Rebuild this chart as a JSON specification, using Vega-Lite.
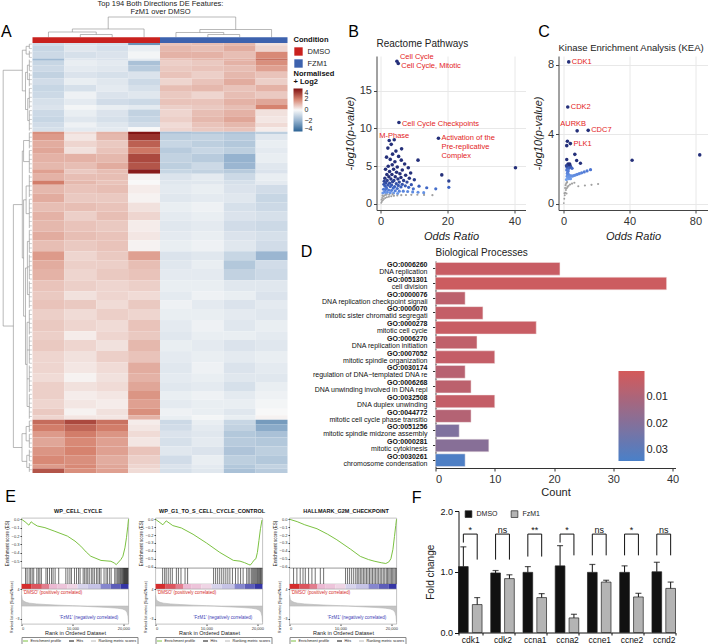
{
  "$schema": "https://vega.github.io/schema/vega-lite/v6.json",
  "background": "white",
  "padding": {"left": 0.5, "top": 0, "right": 0, "bottom": 0},
  "config": {
    "font": "Liberation Sans",
    "view": {"stroke": null},
    "axis": {"labelFontSize": 11, "titleFontSize": 11, "labelColor": "#333", "titleColor": "#222", "titleFontWeight": "normal", "domainColor": "#444", "tickColor": "#444", "tickSize": 3, "gridColor": "#e8e8e8", "labelPadding": 2},
    "legend": {"labelColor": "#222", "titleColor": "#111"},
    "title": {"color": "#111"}
  },
  "datasets": {
    "heat": [
      {"r0":0,"r1":1,"a1":-0.8,"a2":-0.6,"a3":-0.7,"a4":-2.8,"b1":0.9,"b2":1.0,"b3":1.1,"b4":0.4},
      {"r0":1,"r1":4,"a1":-1.0,"a2":-0.5,"a3":-0.7,"a4":-0.3,"b1":1.1,"b2":1.0,"b3":1.3,"b4":0.6},
      {"r0":4,"r1":7,"a1":-0.9,"a2":-0.7,"a3":-0.6,"a4":-0.1,"b1":1.2,"b2":1.2,"b3":1.0,"b4":1.9},
      {"r0":7,"r1":8,"a1":-1.8,"a2":-0.5,"a3":-0.6,"a4":-0.4,"b1":0.9,"b2":1.1,"b3":1.2,"b4":2.3},
      {"r0":8,"r1":10,"a1":-1.0,"a2":-0.3,"a3":-0.4,"a4":-1.6,"b1":0.7,"b2":0.8,"b3":1.2,"b4":1.8},
      {"r0":10,"r1":13,"a1":-0.9,"a2":-0.4,"a3":-0.5,"a4":-1.3,"b1":0.8,"b2":0.9,"b3":1.0,"b4":1.5},
      {"r0":13,"r1":16,"a1":-1.1,"a2":-0.6,"a3":-0.7,"a4":-0.6,"b1":0.9,"b2":0.7,"b3":1.1,"b4":0.9},
      {"r0":16,"r1":19,"a1":-0.8,"a2":-0.3,"a3":-0.5,"a4":-0.9,"b1":0.6,"b2":0.9,"b3":1.3,"b4":0.7},
      {"r0":19,"r1":22,"a1":-1.0,"a2":-0.7,"a3":-0.4,"a4":-0.7,"b1":1.0,"b2":1.1,"b3":0.9,"b4":1.2},
      {"r0":22,"r1":25,"a1":-0.9,"a2":-0.2,"a3":-0.6,"a4":-0.5,"b1":0.8,"b2":0.6,"b3":1.0,"b4":0.8},
      {"r0":25,"r1":28,"a1":-0.7,"a2":-0.4,"a3":-0.8,"a4":-0.9,"b1":0.9,"b2":0.9,"b3":1.2,"b4":1.4},
      {"r0":28,"r1":30,"a1":-0.6,"a2":-0.1,"a3":-0.3,"a4":-0.4,"b1":0.7,"b2":0.8,"b3":1.0,"b4":2.0},
      {"r0":30,"r1":33,"a1":-0.9,"a2":-0.3,"a3":-0.6,"a4":-1.1,"b1":0.6,"b2":1.0,"b3":1.2,"b4":0.4},
      {"r0":33,"r1":36,"a1":-1.0,"a2":-0.5,"a3":-0.7,"a4":-1.0,"b1":0.7,"b2":1.1,"b3":1.4,"b4":0.3},
      {"r0":36,"r1":38,"a1":-0.8,"a2":-0.2,"a3":-0.5,"a4":-0.8,"b1":0.5,"b2":0.9,"b3":1.1,"b4":0.5},
      {"r0":38,"r1":40,"a1":-0.7,"a2":-0.4,"a3":-0.4,"a4":0.0,"b1":0.6,"b2":0.8,"b3":0.9,"b4":0.2},
      {"r0":40,"r1":41,"a1":1.8,"a2":0.5,"a3":1.2,"a4":3.9,"b1":-1.6,"b2":-1.4,"b3":-1.5,"b4":-1.2},
      {"r0":41,"r1":44,"a1":1.6,"a2":0.3,"a3":1.1,"a4":3.4,"b1":-1.2,"b2":-1.1,"b3":-1.3,"b4":-0.5},
      {"r0":44,"r1":47,"a1":1.3,"a2":0.6,"a3":0.8,"a4":2.6,"b1":-1.0,"b2":-1.2,"b3":-1.4,"b4":-0.3},
      {"r0":47,"r1":50,"a1":1.4,"a2":0.4,"a3":0.9,"a4":2.2,"b1":-1.3,"b2":-1.0,"b3":-1.2,"b4":-0.4},
      {"r0":50,"r1":54,"a1":1.2,"a2":1.2,"a3":1.1,"a4":3.0,"b1":-1.1,"b2":-1.3,"b3":-2.0,"b4":-0.3},
      {"r0":54,"r1":57,"a1":1.1,"a2":1.0,"a3":1.3,"a4":2.8,"b1":-1.2,"b2":-0.9,"b3":-1.9,"b4":-0.5},
      {"r0":57,"r1":59,"a1":1.5,"a2":0.8,"a3":1.0,"a4":3.8,"b1":-1.0,"b2":-1.1,"b3":-1.3,"b4":-0.6},
      {"r0":59,"r1":62,"a1":1.2,"a2":1.0,"a3":1.0,"a4":0.1,"b1":-0.6,"b2":-0.4,"b3":-0.9,"b4":-0.3},
      {"r0":62,"r1":64,"a1":2.1,"a2":1.1,"a3":0.9,"a4":0.0,"b1":-0.5,"b2":-0.5,"b3":-0.7,"b4":-0.4},
      {"r0":64,"r1":68,"a1":1.1,"a2":0.9,"a3":1.0,"a4":0.2,"b1":-0.4,"b2":-0.3,"b3":-0.6,"b4":-0.8},
      {"r0":68,"r1":72,"a1":1.3,"a2":0.8,"a3":0.8,"a4":0.1,"b1":-0.5,"b2":-0.4,"b3":-0.5,"b4":-1.0},
      {"r0":72,"r1":76,"a1":1.0,"a2":1.0,"a3":0.9,"a4":0.4,"b1":-0.3,"b2":-0.2,"b3":-0.7,"b4":-0.9},
      {"r0":76,"r1":80,"a1":1.2,"a2":0.7,"a3":1.0,"a4":0.6,"b1":-0.4,"b2":-0.3,"b3":-0.6,"b4":-0.7},
      {"r0":80,"r1":85,"a1":1.1,"a2":0.9,"a3":0.8,"a4":0.2,"b1":-0.5,"b2":-0.4,"b3":-0.8,"b4":-0.9},
      {"r0":85,"r1":89,"a1":1.3,"a2":1.0,"a3":0.9,"a4":0.3,"b1":-0.4,"b2":-0.3,"b3":-0.6,"b4":-0.7},
      {"r0":89,"r1":94,"a1":1.0,"a2":0.8,"a3":0.9,"a4":0.1,"b1":-0.3,"b2":-0.2,"b3":-0.5,"b4":-0.8},
      {"r0":94,"r1":98,"a1":1.6,"a2":0.6,"a3":0.8,"a4":1.5,"b1":-0.6,"b2":-0.5,"b3":-1.0,"b4":-1.9},
      {"r0":98,"r1":102,"a1":1.3,"a2":0.7,"a3":0.7,"a4":1.0,"b1":-0.5,"b2":-0.3,"b3":-1.4,"b4":-0.8},
      {"r0":102,"r1":107,"a1":1.2,"a2":0.6,"a3":0.8,"a4":0.9,"b1":-0.4,"b2":-0.4,"b3":-1.1,"b4":-0.9},
      {"r0":107,"r1":112,"a1":0.9,"a2":0.7,"a3":0.6,"a4":0.7,"b1":-0.3,"b2":-0.3,"b3":-0.5,"b4":-0.5},
      {"r0":112,"r1":116,"a1":0.8,"a2":0.4,"a3":0.6,"a4":0.5,"b1":-0.4,"b2":-0.2,"b3":-0.3,"b4":-0.6},
      {"r0":116,"r1":120,"a1":0.9,"a2":0.8,"a3":0.5,"a4":0.8,"b1":-0.2,"b2":-0.4,"b3":-0.6,"b4":-0.4},
      {"r0":120,"r1":125,"a1":0.7,"a2":0.5,"a3":0.7,"a4":0.6,"b1":-0.3,"b2":-0.3,"b3":-0.4,"b4":-0.5},
      {"r0":125,"r1":130,"a1":0.8,"a2":0.6,"a3":0.5,"a4":0.9,"b1":-0.4,"b2":-0.2,"b3":-0.5,"b4":-0.3},
      {"r0":130,"r1":134,"a1":0.7,"a2":0.2,"a3":0.6,"a4":0.8,"b1":-0.5,"b2":-0.3,"b3":-0.3,"b4":-0.4},
      {"r0":134,"r1":139,"a1":0.8,"a2":0.6,"a3":0.4,"a4":1.1,"b1":-0.3,"b2":-0.4,"b3":-0.6,"b4":-0.5},
      {"r0":139,"r1":144,"a1":0.6,"a2":0.4,"a3":0.7,"a4":0.9,"b1":-0.4,"b2":-0.3,"b3":-0.4,"b4":-0.3},
      {"r0":144,"r1":149,"a1":0.6,"a2":0.3,"a3":0.5,"a4":1.3,"b1":-0.5,"b2":-0.2,"b3":-0.6,"b4":-0.4},
      {"r0":149,"r1":153,"a1":0.5,"a2":0.1,"a3":0.4,"a4":1.2,"b1":-0.4,"b2":-0.3,"b3":-0.5,"b4":-0.5},
      {"r0":153,"r1":157,"a1":0.7,"a2":0.4,"a3":0.5,"a4":1.4,"b1":-0.5,"b2":-0.4,"b3":-0.7,"b4":-0.3},
      {"r0":157,"r1":161,"a1":0.7,"a2":0.2,"a3":0.3,"a4":1.7,"b1":-0.3,"b2":-0.2,"b3":-0.4,"b4":-0.2},
      {"r0":161,"r1":165,"a1":0.6,"a2":0.3,"a3":0.2,"a4":1.5,"b1":-0.4,"b2":-0.3,"b3":-0.3,"b4":-0.1},
      {"r0":165,"r1":168,"a1":0.8,"a2":0.1,"a3":0.4,"a4":1.8,"b1":-0.2,"b2":-0.3,"b3":-0.5,"b4":0.0},
      {"r0":168,"r1":170,"a1":0.6,"a2":0.3,"a3":0.3,"a4":1.2,"b1":-0.3,"b2":-0.1,"b3":-0.3,"b4":0.1},
      {"r0":170,"r1":172,"a1":2.4,"a2":3.0,"a3":2.3,"a4":0.2,"b1":-0.9,"b2":-0.3,"b3":-1.0,"b4":-2.6},
      {"r0":172,"r1":175,"a1":2.1,"a2":2.5,"a3":2.1,"a4":0.3,"b1":-0.8,"b2":-0.4,"b3":-1.1,"b4":-2.2},
      {"r0":175,"r1":178,"a1":1.6,"a2":2.1,"a3":1.7,"a4":0.5,"b1":-0.6,"b2":-0.5,"b3":-1.4,"b4":-1.6},
      {"r0":178,"r1":182,"a1":1.4,"a2":1.9,"a3":1.5,"a4":0.3,"b1":-0.7,"b2":-0.4,"b3":-1.3,"b4":-1.4},
      {"r0":182,"r1":186,"a1":1.7,"a2":2.0,"a3":1.5,"a4":0.9,"b1":-0.5,"b2":-0.6,"b3":-1.5,"b4":-1.2},
      {"r0":186,"r1":190,"a1":1.9,"a2":1.8,"a3":1.3,"a4":0.7,"b1":-0.8,"b2":-0.3,"b3":-1.2,"b4":-1.4},
      {"r0":190,"r1":192,"a1":1.6,"a2":1.9,"a3":1.4,"a4":0.6,"b1":-0.6,"b2":-0.4,"b3":-1.4,"b4":-1.1},
      {"r0":192,"r1":194,"a1":2.8,"a2":1.8,"a3":1.5,"a4":0.5,"b1":-0.7,"b2":-0.5,"b3":-1.6,"b4":-1.3}
    ],
    "tree": [
      {"x":-0.92,"y":12.3,"x2":-0.92,"y2":127.7},{"x":-0.92,"y":12.3,"x2":-0.32,"y2":12.3},{"x":-0.92,"y":127.7,"x2":-0.6,"y2":127.7},
      {"x":-0.6,"y":72.9,"x2":-0.6,"y2":182.5},{"x":-0.6,"y":72.9,"x2":-0.32,"y2":72.9},{"x":-0.6,"y":182.5,"x2":-0.33,"y2":182.5},
      {"x":-0.32,"y":3.25,"x2":-0.32,"y2":21.6},{"x":-0.32,"y":3.25,"x2":-0.2,"y2":3.25},{"x":-0.32,"y":21.6,"x2":-0.22,"y2":21.6},
      {"x":-0.2,"y":1.5,"x2":-0.2,"y2":5},{"x":-0.2,"y":1.5,"x2":-0.1,"y2":1.5},{"x":-0.2,"y":5,"x2":-0.1,"y2":5},
      {"x":-0.22,"y":13.25,"x2":-0.22,"y2":30},{"x":-0.22,"y":13.25,"x2":-0.16,"y2":13.25},{"x":-0.22,"y":30,"x2":-0.15,"y2":30},
      {"x":-0.16,"y":10,"x2":-0.16,"y2":16.5},{"x":-0.16,"y":10,"x2":-0.1,"y2":10},{"x":-0.16,"y":16.5,"x2":-0.1,"y2":16.5},
      {"x":-0.15,"y":25,"x2":-0.15,"y2":35},{"x":-0.15,"y":25,"x2":-0.1,"y2":25},{"x":-0.15,"y":35,"x2":-0.1,"y2":35},
      {"x":-0.32,"y":48.75,"x2":-0.32,"y2":97},{"x":-0.32,"y":48.75,"x2":-0.28,"y2":48.75},{"x":-0.32,"y":97,"x2":-0.28,"y2":97},
      {"x":-0.28,"y":44,"x2":-0.28,"y2":53.5},{"x":-0.28,"y":44,"x2":-0.1,"y2":44},{"x":-0.28,"y":53.5,"x2":-0.1,"y2":53.5},
      {"x":-0.28,"y":70.75,"x2":-0.28,"y2":123.25},{"x":-0.28,"y":70.75,"x2":-0.2,"y2":70.75},{"x":-0.28,"y":123.25,"x2":-0.22,"y2":123.25},
      {"x":-0.2,"y":64.5,"x2":-0.2,"y2":77},{"x":-0.2,"y":64.5,"x2":-0.1,"y2":64.5},{"x":-0.2,"y":77,"x2":-0.1,"y2":77},
      {"x":-0.22,"y":101.5,"x2":-0.22,"y2":145},{"x":-0.22,"y":101.5,"x2":-0.16,"y2":101.5},{"x":-0.22,"y":145,"x2":-0.17,"y2":145},
      {"x":-0.16,"y":89.5,"x2":-0.16,"y2":113.5},{"x":-0.16,"y":89.5,"x2":-0.1,"y2":89.5},{"x":-0.16,"y":101,"x2":-0.1,"y2":101},{"x":-0.16,"y":113.5,"x2":-0.1,"y2":113.5},
      {"x":-0.17,"y":126,"x2":-0.17,"y2":164},{"x":-0.17,"y":126,"x2":-0.1,"y2":126},{"x":-0.17,"y":138.5,"x2":-0.1,"y2":138.5},{"x":-0.17,"y":151.5,"x2":-0.1,"y2":151.5},{"x":-0.17,"y":164,"x2":-0.1,"y2":164},
      {"x":-0.33,"y":176.25,"x2":-0.33,"y2":188.75},{"x":-0.33,"y":176.25,"x2":-0.2,"y2":176.25},{"x":-0.33,"y":188.75,"x2":-0.18,"y2":188.75},
      {"x":-0.2,"y":173,"x2":-0.2,"y2":179.5},{"x":-0.2,"y":173,"x2":-0.1,"y2":173},{"x":-0.2,"y":179.5,"x2":-0.1,"y2":179.5},
      {"x":-0.18,"y":186,"x2":-0.18,"y2":191.5},{"x":-0.18,"y":186,"x2":-0.1,"y2":186},{"x":-0.18,"y":191.5,"x2":-0.1,"y2":191.5},
      {"x":-0.1,"y":0.5,"x2":-0.1,"y2":2.5},{"x":-0.1,"y":3.5,"x2":-0.1,"y2":6.5},{"x":-0.1,"y":7.5,"x2":-0.1,"y2":12.5},{"x":-0.1,"y":13.5,"x2":-0.1,"y2":19.5},
      {"x":-0.1,"y":20.5,"x2":-0.1,"y2":29.5},{"x":-0.1,"y":30.5,"x2":-0.1,"y2":39.5},{"x":-0.1,"y":40.5,"x2":-0.1,"y2":47.5},{"x":-0.1,"y":48.5,"x2":-0.1,"y2":58.5},
      {"x":-0.1,"y":59.5,"x2":-0.1,"y2":69.5},{"x":-0.1,"y":70.5,"x2":-0.1,"y2":83.5},{"x":-0.1,"y":84.5,"x2":-0.1,"y2":94.5},{"x":-0.1,"y":95.5,"x2":-0.1,"y2":106.5},
      {"x":-0.1,"y":107.5,"x2":-0.1,"y2":119.5},{"x":-0.1,"y":120.5,"x2":-0.1,"y2":131.5},{"x":-0.1,"y":132.5,"x2":-0.1,"y2":144.5},{"x":-0.1,"y":145.5,"x2":-0.1,"y2":157.5},
      {"x":-0.1,"y":158.5,"x2":-0.1,"y2":169.5},{"x":-0.1,"y":170.5,"x2":-0.1,"y2":175.5},{"x":-0.1,"y":176.5,"x2":-0.1,"y2":182.5},{"x":-0.1,"y":183.5,"x2":-0.1,"y2":188.5},
      {"x":-0.1,"y":189.5,"x2":-0.1,"y2":193.5},
      {"x":1.5,"y":-3.83,"x2":2.5,"y2":-3.83},{"x":1.5,"y":-3.83,"x2":1.5,"y2":-2.6},{"x":2.5,"y":-3.83,"x2":2.5,"y2":-2.6},
      {"x":0.5,"y":-4.96,"x2":2.0,"y2":-4.96},{"x":0.5,"y":-4.96,"x2":0.5,"y2":-2.6},{"x":2.0,"y":-4.96,"x2":2.0,"y2":-3.83},
      {"x":1.25,"y":-6.32,"x2":3.5,"y2":-6.32},{"x":1.25,"y":-6.32,"x2":1.25,"y2":-4.96},{"x":3.5,"y":-6.32,"x2":3.5,"y2":-2.6},
      {"x":5.5,"y":-3.83,"x2":6.5,"y2":-3.83},{"x":5.5,"y":-3.83,"x2":5.5,"y2":-2.6},{"x":6.5,"y":-3.83,"x2":6.5,"y2":-2.6},
      {"x":4.5,"y":-4.74,"x2":6.0,"y2":-4.74},{"x":4.5,"y":-4.74,"x2":4.5,"y2":-2.6},{"x":6.0,"y":-4.74,"x2":6.0,"y2":-3.83},
      {"x":5.25,"y":-6.09,"x2":7.5,"y2":-6.09},{"x":5.25,"y":-6.09,"x2":5.25,"y2":-4.74},{"x":7.5,"y":-6.09,"x2":7.5,"y2":-2.6},
      {"x":2.375,"y":-11.73,"x2":6.375,"y2":-11.73},{"x":2.375,"y":-11.73,"x2":2.375,"y2":-6.32},{"x":6.375,"y":-11.73,"x2":6.375,"y2":-6.09}
    ],
    "leaves": [
      {"y":0.5},{"y":2.5},{"y":4.5},{"y":6.5},{"y":8.5},{"y":10.5},{"y":12.5},{"y":14.5},{"y":16.5},{"y":18.5},
      {"y":20.5},{"y":22.5},{"y":24.5},{"y":26.5},{"y":28.5},{"y":30.5},{"y":32.5},{"y":34.5},{"y":36.5},{"y":38.5},
      {"y":40.5},{"y":42.5},{"y":44.5},{"y":46.5},{"y":48.5},{"y":50.5},{"y":52.5},{"y":54.5},{"y":56.5},{"y":58.5},
      {"y":60.5},{"y":62.5},{"y":64.5},{"y":66.5},{"y":68.5},{"y":70.5},{"y":72.5},{"y":74.5},{"y":76.5},{"y":78.5},
      {"y":80.5},{"y":82.5},{"y":84.5},{"y":86.5},{"y":88.5},{"y":90.5},{"y":92.5},{"y":94.5},{"y":96.5},{"y":98.5},
      {"y":100.5},{"y":102.5},{"y":104.5},{"y":106.5},{"y":108.5},{"y":110.5},{"y":112.5},{"y":114.5},{"y":116.5},{"y":118.5},
      {"y":120.5},{"y":122.5},{"y":124.5},{"y":126.5},{"y":128.5},{"y":130.5},{"y":132.5},{"y":134.5},{"y":136.5},{"y":138.5},
      {"y":140.5},{"y":142.5},{"y":144.5},{"y":146.5},{"y":148.5},{"y":150.5},{"y":152.5},{"y":154.5},{"y":156.5},{"y":158.5},
      {"y":160.5},{"y":162.5},{"y":164.5},{"y":166.5},{"y":168.5},{"y":170.5},{"y":172.5},{"y":174.5},{"y":176.5},{"y":178.5},
      {"y":180.5},{"y":182.5},{"y":184.5},{"y":186.5},{"y":188.5},{"y":190.5},{"y":192.5}
    ],
    "reactome": [
      {"x":4.9,"y":18.9,"lab":"Cell Cycle"},{"x":5.3,"y":18.6,"lab":"Cell Cycle, Mitotic"},{"x":5.5,"y":10.8,"lab":"Cell Cycle Checkpoints"},
      {"x":2.6,"y":8.4,"lab":"M-Phase"},{"x":17.3,"y":8.7,"lab":"Activation of the\nPre-replicative\nComplex"},
      {"x":4.1,"y":8.5},{"x":3.2,"y":7.9},{"x":6.3,"y":7.3},{"x":2.2,"y":7.4},{"x":4.6,"y":7.0},{"x":3.6,"y":6.6},{"x":5.4,"y":6.3},{"x":1.8,"y":6.2},
      {"x":2.9,"y":5.9},{"x":6.2,"y":5.8},{"x":4.3,"y":5.6},{"x":7.2,"y":5.3},{"x":3.5,"y":5.2},{"x":11.2,"y":5.8},{"x":2.3,"y":5.0},{"x":5.0,"y":4.9},
      {"x":8.3,"y":4.8},{"x":1.5,"y":4.6},{"x":3.9,"y":4.6},{"x":6.5,"y":4.5},{"x":2.7,"y":4.3},{"x":4.8,"y":4.2},{"x":9.0,"y":4.1},{"x":5.8,"y":4.0},
      {"x":1.9,"y":3.9},{"x":3.4,"y":3.9},{"x":7.5,"y":3.8},{"x":18.3,"y":3.85},{"x":2.5,"y":3.6},{"x":4.4,"y":3.6},{"x":6.1,"y":3.5},{"x":1.3,"y":3.4},
      {"x":3.1,"y":3.3},{"x":8.6,"y":3.4},{"x":5.2,"y":3.3},{"x":10.1,"y":3.2},{"x":2.0,"y":3.1},{"x":4.0,"y":3.1},{"x":6.9,"y":3.1},{"x":20.4,"y":3.05},
      {"x":40.3,"y":4.8},{"x":1.1,"y":3.0},{"x":3.6,"y":2.95},{"x":5.6,"y":2.9},{"x":7.9,"y":2.9},
      {"x":1.6,"y":2.8},{"x":2.7,"y":2.75},{"x":4.7,"y":2.7},{"x":6.5,"y":2.6},{"x":9.2,"y":2.55},{"x":1.0,"y":2.6},{"x":2.2,"y":2.5},{"x":3.3,"y":2.5},
      {"x":5.3,"y":2.45},{"x":7.4,"y":2.4},{"x":11.5,"y":2.35},{"x":1.4,"y":2.35},{"x":2.9,"y":2.3},{"x":4.2,"y":2.3},{"x":6.1,"y":2.25},{"x":8.4,"y":2.2},
      {"x":20.4,"y":2.2},{"x":13.8,"y":2.15},{"x":1.8,"y":2.1},{"x":3.8,"y":2.1},{"x":16.5,"y":2.0},{"x":5.0,"y":2.05},{"x":9.8,"y":2.0},
      {"x":0.9,"y":1.95},{"x":1.5,"y":1.9},{"x":2.4,"y":1.85},{"x":3.3,"y":1.8},{"x":4.4,"y":1.75},{"x":5.6,"y":1.7},{"x":6.8,"y":1.7},{"x":8.1,"y":1.65},
      {"x":9.6,"y":1.6},{"x":11.2,"y":1.55},{"x":12.9,"y":1.5},{"x":1.2,"y":1.6},{"x":2.0,"y":1.55},{"x":2.9,"y":1.5},{"x":3.9,"y":1.45},{"x":5.1,"y":1.4},
      {"x":0.7,"y":1.45},{"x":1.7,"y":1.35},
      {"x":0.2,"y":0.15},{"x":0.4,"y":0.3},{"x":0.7,"y":0.5},{"x":1.0,"y":0.65},{"x":1.4,"y":0.78},{"x":1.9,"y":0.88},{"x":2.5,"y":0.95},{"x":3.2,"y":1.02},
      {"x":4.0,"y":1.08},{"x":5.0,"y":1.12},{"x":6.2,"y":1.16},{"x":7.6,"y":1.19},{"x":9.2,"y":1.21},{"x":11.0,"y":1.22},{"x":13.0,"y":1.2},{"x":15.5,"y":1.17},
      {"x":0.5,"y":0.8},{"x":0.9,"y":1.0},{"x":1.3,"y":1.15},{"x":1.8,"y":1.25},{"x":2.6,"y":1.22},{"x":0.3,"y":0.55},{"x":3.6,"y":1.27},{"x":0.6,"y":1.1}
    ],
    "kea": [
      {"x":3.2,"y":8.16,"lab":"CDK1"},{"x":2.6,"y":5.57,"lab":"CDK2"},{"x":8.3,"y":4.2,"lab":"AURKB"},{"x":15.0,"y":4.23,"lab":"CDC7"},{"x":4.2,"y":3.47,"lab":"PLK1"},
      {"x":2.4,"y":3.6},{"x":2.0,"y":3.35},{"x":6.9,"y":2.85},{"x":10.3,"y":2.34},{"x":8.0,"y":2.5},{"x":41.6,"y":2.51},{"x":82.6,"y":2.82},{"x":2.0,"y":2.55},
      {"x":2.5,"y":2.25},{"x":3.0,"y":2.2},{"x":3.5,"y":2.15},{"x":4.0,"y":2.22},{"x":2.2,"y":2.1},{"x":2.8,"y":2.3},{"x":3.3,"y":2.05},{"x":1.8,"y":2.2},
      {"x":4.5,"y":2.12},{"x":5.2,"y":2.05},{"x":3.8,"y":2.3},
      {"x":2.0,"y":1.95},{"x":2.5,"y":1.8},{"x":3.0,"y":1.7},{"x":3.5,"y":1.65},{"x":4.0,"y":1.6},{"x":4.6,"y":1.62},{"x":5.3,"y":1.6},{"x":6.2,"y":1.63},
      {"x":7.2,"y":1.66},{"x":8.3,"y":1.7},{"x":9.6,"y":1.74},{"x":11.0,"y":1.79},{"x":12.6,"y":1.84},{"x":14.3,"y":1.9},{"x":16.4,"y":1.97},{"x":2.2,"y":1.6},
      {"x":2.6,"y":1.5},{"x":3.2,"y":1.45},{"x":3.7,"y":1.55},{"x":2.9,"y":1.9},{"x":2.3,"y":1.75},{"x":4.3,"y":1.45},{"x":1.8,"y":1.4},
      {"x":0.2,"y":0.05},{"x":0.5,"y":0.3},{"x":0.8,"y":0.5},{"x":1.1,"y":0.65},{"x":1.5,"y":0.8},{"x":2.0,"y":0.9},{"x":2.5,"y":0.98},{"x":3.1,"y":1.05},
      {"x":4.0,"y":1.12},{"x":5.2,"y":1.17},{"x":6.6,"y":1.22},{"x":1.0,"y":0.92},{"x":1.3,"y":1.08},{"x":1.7,"y":1.18},{"x":2.2,"y":1.25},{"x":9.0,"y":1.02},
      {"x":13.0,"y":1.06},{"x":17.0,"y":1.1},{"x":21.0,"y":1.15},{"x":0.6,"y":0.62},{"x":1.9,"y":0.6}
    ],
    "go": [
      {"go":"GO:0006260","name":"DNA replication","count":21,"padj":0.003},
      {"go":"GO:0051301","name":"cell division","count":39,"padj":0.002},
      {"go":"GO:0000076","name":"DNA replication checkpoint signali","count":5,"padj":0.006},
      {"go":"GO:0000070","name":"mitotic sister chromatid segregati","count":8,"padj":0.004},
      {"go":"GO:0000278","name":"mitotic cell cycle","count":17,"padj":0.003},
      {"go":"GO:0006270","name":"DNA replication initiation","count":7,"padj":0.005},
      {"go":"GO:0007052","name":"mitotic spindle organization","count":10,"padj":0.004},
      {"go":"GO:0030174","name":"regulation of DNA−templated DNA re","count":5,"padj":0.007},
      {"go":"GO:0006268","name":"DNA unwinding involved in DNA repl","count":6,"padj":0.006},
      {"go":"GO:0032508","name":"DNA duplex unwinding","count":10,"padj":0.004},
      {"go":"GO:0044772","name":"mitotic cell cycle phase transitio","count":6,"padj":0.008},
      {"go":"GO:0051256","name":"mitotic spindle midzone assembly","count":4,"padj":0.021},
      {"go":"GO:0000281","name":"mitotic cytokinesis","count":9,"padj":0.019},
      {"go":"GO:0030261","name":"chromosome condensation","count":5,"padj":0.033}
    ],
    "fold": [
      {"gene":"cdk1","grp":"DMSO","fc":1.085,"hi":1.41},{"gene":"cdk1","grp":"FzM1","fc":0.46,"hi":0.575},
      {"gene":"cdk2","grp":"DMSO","fc":0.98,"hi":1.02},{"gene":"cdk2","grp":"FzM1","fc":0.887,"hi":0.95},
      {"gene":"ccna1","grp":"DMSO","fc":0.99,"hi":1.085},{"gene":"ccna1","grp":"FzM1","fc":0.575,"hi":0.64},
      {"gene":"ccna2","grp":"DMSO","fc":1.097,"hi":1.43},{"gene":"ccna2","grp":"FzM1","fc":0.24,"hi":0.3},
      {"gene":"ccne1","grp":"DMSO","fc":0.99,"hi":1.12},{"gene":"ccne1","grp":"FzM1","fc":0.83,"hi":0.86},
      {"gene":"ccne2","grp":"DMSO","fc":0.99,"hi":1.097},{"gene":"ccne2","grp":"FzM1","fc":0.585,"hi":0.645},
      {"gene":"ccnd2","grp":"DMSO","fc":1.0,"hi":1.156},{"gene":"ccnd2","grp":"FzM1","fc":0.726,"hi":0.83}
    ],
    "brackets": [
      {"gene":"cdk1","grp":"DMSO","k":0,"v":1.48},{"gene":"cdk1","grp":"DMSO","k":1,"v":1.62},{"gene":"cdk1","grp":"FzM1","k":2,"v":1.62},{"gene":"cdk1","grp":"FzM1","k":3,"v":1.2},
      {"gene":"cdk2","grp":"DMSO","k":0,"v":1.2},{"gene":"cdk2","grp":"DMSO","k":1,"v":1.62},{"gene":"cdk2","grp":"FzM1","k":2,"v":1.62},{"gene":"cdk2","grp":"FzM1","k":3,"v":1.2},
      {"gene":"ccna1","grp":"DMSO","k":0,"v":1.25},{"gene":"ccna1","grp":"DMSO","k":1,"v":1.62},{"gene":"ccna1","grp":"FzM1","k":2,"v":1.62},{"gene":"ccna1","grp":"FzM1","k":3,"v":1.25},
      {"gene":"ccna2","grp":"DMSO","k":0,"v":1.48},{"gene":"ccna2","grp":"DMSO","k":1,"v":1.62},{"gene":"ccna2","grp":"FzM1","k":2,"v":1.62},{"gene":"ccna2","grp":"FzM1","k":3,"v":1.27},
      {"gene":"ccne1","grp":"DMSO","k":0,"v":1.27},{"gene":"ccne1","grp":"DMSO","k":1,"v":1.62},{"gene":"ccne1","grp":"FzM1","k":2,"v":1.62},{"gene":"ccne1","grp":"FzM1","k":3,"v":1.27},
      {"gene":"ccne2","grp":"DMSO","k":0,"v":1.27},{"gene":"ccne2","grp":"DMSO","k":1,"v":1.62},{"gene":"ccne2","grp":"FzM1","k":2,"v":1.62},{"gene":"ccne2","grp":"FzM1","k":3,"v":1.27},
      {"gene":"ccnd2","grp":"DMSO","k":0,"v":1.27},{"gene":"ccnd2","grp":"DMSO","k":1,"v":1.62},{"gene":"ccnd2","grp":"FzM1","k":2,"v":1.62},{"gene":"ccnd2","grp":"FzM1","k":3,"v":1.27}
    ],
    "sig": [
      {"gene":"cdk1","sig":"*"},{"gene":"cdk2","sig":"ns"},{"gene":"ccna1","sig":"**"},{"gene":"ccna2","sig":"*"},
      {"gene":"ccne1","sig":"ns"},{"gene":"ccne2","sig":"*"},{"gene":"ccnd2","sig":"ns"}
    ],
    "es1": [
      {"rank":0,"es":0},{"rank":700,"es":-0.03},{"rank":1440,"es":-0.07},{"rank":1900,"es":-0.03},{"rank":2300,"es":-0.05},{"rank":3100,"es":-0.08},
      {"rank":4600,"es":-0.1},{"rank":6400,"es":-0.14},{"rank":9000,"es":-0.2},{"rank":10500,"es":-0.26},{"rank":11640,"es":-0.32},{"rank":12700,"es":-0.39},
      {"rank":13600,"es":-0.44},{"rank":15600,"es":-0.49},{"rank":17550,"es":-0.5},{"rank":18200,"es":-0.52},{"rank":18600,"es":-0.54},{"rank":18900,"es":-0.52},
      {"rank":19500,"es":-0.48},{"rank":19900,"es":-0.44},{"rank":20300,"es":-0.34},{"rank":20600,"es":-0.22},{"rank":20850,"es":-0.09},{"rank":21000,"es":0.0}
    ],
    "es2": [
      {"rank":0,"es":0},{"rank":1450,"es":-0.07},{"rank":2100,"es":-0.02},{"rank":3400,"es":-0.08},{"rank":5070,"es":-0.11},{"rank":7370,"es":-0.19},
      {"rank":10000,"es":-0.3},{"rank":12630,"es":-0.42},{"rank":15260,"es":-0.52},{"rank":16580,"es":-0.53},{"rank":17500,"es":-0.55},{"rank":18200,"es":-0.57},
      {"rank":18600,"es":-0.58},{"rank":19000,"es":-0.55},{"rank":19300,"es":-0.52},{"rank":19700,"es":-0.5},{"rank":20000,"es":-0.42},{"rank":20300,"es":-0.27},
      {"rank":20600,"es":-0.12},{"rank":20900,"es":-0.01}
    ],
    "es3": [
      {"rank":0,"es":0},{"rank":1500,"es":-0.03},{"rank":3000,"es":-0.07},{"rank":5400,"es":-0.12},{"rank":7500,"es":-0.19},{"rank":9300,"es":-0.26},
      {"rank":12000,"es":-0.38},{"rank":13900,"es":-0.47},{"rank":15500,"es":-0.51},{"rank":16600,"es":-0.53},{"rank":18000,"es":-0.55},{"rank":18900,"es":-0.56},
      {"rank":19500,"es":-0.54},{"rank":19900,"es":-0.5},{"rank":20300,"es":-0.38},{"rank":20600,"es":-0.22},{"rank":20850,"es":-0.08},{"rank":21000,"es":0.0}
    ],
    "hits1": [
      {"rank":800},{"rank":1100},{"rank":1500},{"rank":1800},{"rank":2100},{"rank":2400},{"rank":3000},{"rank":3300},{"rank":3600},{"rank":3900},
      {"rank":4800},{"rank":5100},{"rank":5500},{"rank":5900},{"rank":6200},{"rank":6600},{"rank":7300},{"rank":8700},{"rank":9100},{"rank":9500},
      {"rank":9800},{"rank":10400},{"rank":10800},{"rank":11200},{"rank":11500},{"rank":12100},{"rank":12400},{"rank":12700},{"rank":13000},{"rank":13300},
      {"rank":13700},{"rank":14000},{"rank":14300},{"rank":14700},{"rank":15000},{"rank":15300},{"rank":15600},{"rank":16200},{"rank":16600},{"rank":16900},
      {"rank":17300},{"rank":17600},{"rank":18300},{"rank":18550},{"rank":18800},{"rank":19000},{"rank":19200},{"rank":19400},{"rank":19550},{"rank":19700},
      {"rank":19850},{"rank":20000},{"rank":20100},{"rank":20200},{"rank":20300},{"rank":20400},{"rank":20500},{"rank":20600},{"rank":20700},{"rank":20800},{"rank":20900}
    ],
    "hits2": [
      {"rank":1400},{"rank":1800},{"rank":2100},{"rank":2500},{"rank":2900},{"rank":3300},{"rank":4100},{"rank":4500},{"rank":5000},{"rank":5800},
      {"rank":6300},{"rank":11400},{"rank":11800},{"rank":12200},{"rank":12600},{"rank":13000},{"rank":13400},{"rank":13800},{"rank":14200},{"rank":14600},
      {"rank":15100},{"rank":15700},{"rank":16200},{"rank":16700},{"rank":17200},{"rank":17900},{"rank":18200},{"rank":18500},{"rank":18800},{"rank":19000},
      {"rank":19200},{"rank":19400},{"rank":19600},{"rank":19800},{"rank":20000},{"rank":20150},{"rank":20300},{"rank":20450},{"rank":20600},{"rank":20750},{"rank":20900}
    ],
    "hits3": [
      {"rank":800},{"rank":1450},{"rank":2100},{"rank":2650},{"rank":3100},{"rank":3750},{"rank":4400},{"rank":5050},{"rank":6050},{"rank":6700},
      {"rank":11000},{"rank":11400},{"rank":11800},{"rank":12200},{"rank":12600},{"rank":13000},{"rank":13300},{"rank":13600},{"rank":13900},{"rank":14200},
      {"rank":14500},{"rank":14800},{"rank":15100},{"rank":15400},{"rank":15700},{"rank":16000},{"rank":16300},{"rank":16600},{"rank":16900},{"rank":17200},
      {"rank":17500},{"rank":17800},{"rank":18100},{"rank":18400},{"rank":18700},{"rank":19000},{"rank":19250},{"rank":19500},{"rank":19750},{"rank":20000},
      {"rank":20250},{"rank":20500},{"rank":20750},{"rank":20950}
    ],
    "cbar": [
      {"r0":0,"r1":2000,"m":1},{"r0":2000,"r1":4000,"m":0.85},{"r0":4000,"r1":5500,"m":0.7},{"r0":5500,"r1":7000,"m":0.45},
      {"r0":7000,"r1":9000,"m":0.35},{"r0":9000,"r1":11000,"m":0.2},{"r0":11000,"r1":13000,"m":-0.15},{"r0":13000,"r1":15500,"m":-0.25},
      {"r0":15500,"r1":17500,"m":-0.6},{"r0":17500,"r1":19500,"m":-0.8},{"r0":19500,"r1":21000,"m":-1}
    ],
    "ranked": [
      {"rank":0,"metric":2.6},{"rank":150,"metric":1.6},{"rank":400,"metric":1.2},{"rank":900,"metric":0.9},{"rank":1600,"metric":0.7},
      {"rank":3000,"metric":0.52},{"rank":5000,"metric":0.36},{"rank":7500,"metric":0.22},{"rank":10000,"metric":0.1},{"rank":11500,"metric":0.02},
      {"rank":13000,"metric":-0.1},{"rank":15000,"metric":-0.22},{"rank":17000,"metric":-0.35},{"rank":18800,"metric":-0.5},{"rank":19800,"metric":-0.7},
      {"rank":20400,"metric":-1.0},{"rank":20700,"metric":-1.5},{"rank":20900,"metric":-2.4},{"rank":21000,"metric":-3.8}
    ]
  },
  "spacing": 494,
  "bounds": "flush",
  "resolve": {"scale": {"color": "independent", "fill": "independent", "stroke": "independent", "size": "independent"}},
  "vconcat": [
    {
      "hconcat": [
        {
          "width": 284,
          "height": 456,
          "title": {"text": ["Top 194 Both Directions DE Features:", "FzM1 over DMSO"], "fontSize": 7.5, "fontWeight": "normal", "anchor": "middle", "frame": "group", "dx": 15, "offset": 1, "lineHeight": 8, "color": "#222"},
          "layer": [
            {
              "data": {"name": "tree"},
              "mark": {"type": "rule", "color": "#8a8a8a", "strokeWidth": 0.6},
              "encoding": {
                "x": {"field": "x", "type": "quantitative", "scale": {"domain": [-0.91, 8], "nice": false, "zero": false}, "axis": null},
                "y": {"field": "y", "type": "quantitative", "scale": {"domain": [-11.73, 194], "nice": false, "zero": false, "reverse": true}, "axis": null},
                "x2": {"field": "x2"},
                "y2": {"field": "y2"}
              }
            },
            {
              "data": {"name": "leaves"},
              "mark": {"type": "rule", "color": "#9a9a9a", "strokeWidth": 0.5},
              "encoding": {
                "y": {"field": "y", "type": "quantitative", "axis": null},
                "x": {"datum": -0.1, "axis": null},
                "x2": {"datum": -0.02}
              }
            },
            {
              "data": {"values": [{"cond": "DMSO", "c0": 0, "c1": 4}, {"cond": "FZM1", "c0": 4, "c1": 8}]},
              "mark": {"type": "rect"},
              "encoding": {
                "x": {"field": "c0", "type": "quantitative", "axis": null},
                "x2": {"field": "c1"},
                "y": {"datum": -2.6, "axis": null},
                "y2": {"datum": 0},
                "color": {"field": "cond", "type": "nominal", "scale": {"domain": ["DMSO", "FZM1"], "range": ["#c9211e", "#3d62ae"]},
                  "legend": {"title": "Condition", "orient": "none", "legendX": 290, "legendY": 19, "symbolType": "square", "symbolSize": 70, "titleFontSize": 7.5, "labelFontSize": 7.5, "titleFontWeight": "bold", "rowPadding": 2, "titlePadding": 3}}
              }
            },
            {
              "data": {"name": "heat"},
              "transform": [
                {"fold": ["a1", "a2", "a3", "a4", "b1", "b2", "b3", "b4"], "as": ["sample", "z"]},
                {"lookup": "sample", "from": {"data": {"values": [
                  {"sample": "a1", "c0": 0, "c1": 1}, {"sample": "a2", "c0": 1, "c1": 2}, {"sample": "a3", "c0": 2, "c1": 3}, {"sample": "a4", "c0": 3, "c1": 4},
                  {"sample": "b1", "c0": 4, "c1": 5}, {"sample": "b2", "c0": 5, "c1": 6}, {"sample": "b3", "c0": 6, "c1": 7}, {"sample": "b4", "c0": 7, "c1": 8}
                ]}, "key": "sample", "fields": ["c0", "c1"]}}
              ],
              "mark": {"type": "rect"},
              "encoding": {
                "x": {"field": "c0", "type": "quantitative", "axis": null},
                "x2": {"field": "c1"},
                "y": {"field": "r0", "type": "quantitative", "axis": null},
                "y2": {"field": "r1"},
                "fill": {"field": "z", "type": "quantitative",
                  "scale": {"domain": [-4, -2, 0, 2, 4], "range": ["#2b6294", "#96b3cf", "#f8f8f8", "#d6836f", "#7f0f0f"], "interpolate": "rgb"},
                  "legend": {"type": "gradient", "title": ["Normalised", "+ Log2"], "orient": "none", "legendX": 290, "legendY": 53, "gradientLength": 43, "gradientThickness": 9, "values": [4, 2, 0, -2, -4], "labelOverlap": false, "labelFontSize": 7, "titleFontSize": 7.5, "titleFontWeight": "bold", "titlePadding": 3, "titleLineHeight": 8, "gradientStrokeWidth": 0}}
              }
            },
            {"data": {"values": [{"panel": "A"}]}, "mark": {"type": "text", "fontSize": 16, "color": "#000"}, "encoding": {"x": {"datum": -0.82, "axis": null}, "y": {"datum": -4.96, "axis": null}, "text": {"field": "panel"}}},
            {"data": {"values": [{"panel": "B"}]}, "mark": {"type": "text", "fontSize": 16, "color": "#000"}, "encoding": {"x": {"datum": 10.07, "axis": null}, "y": {"datum": -4.96, "axis": null}, "text": {"field": "panel"}}},
            {"data": {"values": [{"panel": "C"}]}, "mark": {"type": "text", "fontSize": 16, "color": "#000"}, "encoding": {"x": {"datum": 16.05, "axis": null}, "y": {"datum": -4.96, "axis": null}, "text": {"field": "panel"}}},
            {"data": {"values": [{"panel": "D"}]}, "mark": {"type": "text", "fontSize": 16, "color": "#000"}, "encoding": {"x": {"datum": 8.6, "axis": null}, "y": {"datum": 94.3, "axis": null}, "text": {"field": "panel"}}},
            {"data": {"values": [{"panel": "E"}]}, "mark": {"type": "text", "fontSize": 16, "color": "#000"}, "encoding": {"x": {"datum": -0.69, "axis": null}, "y": {"datum": 204.8, "axis": null}, "text": {"field": "panel"}}},
            {"data": {"values": [{"panel": "F"}]}, "mark": {"type": "text", "fontSize": 16, "color": "#000"}, "encoding": {"x": {"datum": 12.05, "axis": null}, "y": {"datum": 205.5, "axis": null}, "text": {"field": "panel"}}}
          ]
        },
        {
          "spacing": 0,
          "bounds": "flush",
          "resolve": {"scale": {"color": "independent", "fill": "independent", "stroke": "independent", "size": "independent"}},
          "vconcat": [
            {"width": 1, "height": 39, "data": {"values": []}, "mark": "point", "encoding": {}},
            {
              "spacing": 205,
              "bounds": "flush",
              "resolve": {"scale": {"color": "independent", "fill": "independent", "stroke": "independent", "size": "independent"}},
              "vconcat": [
                {
                  "spacing": 33,
                  "bounds": "flush",
                  "resolve": {"scale": {"color": "independent", "fill": "independent", "stroke": "independent", "size": "independent"}},
                  "hconcat": [
                    {
                      "width": 149,
                      "height": 154,
                      "title": {"text": "Reactome Pathways", "anchor": "start", "frame": "group", "fontSize": 10, "fontWeight": "normal", "offset": 4, "color": "#222"},
                      "data": {"name": "reactome"},
                      "layer": [
                        {
                          "mark": {"type": "circle", "opacity": 1},
                          "encoding": {
                            "x": {"field": "x", "type": "quantitative", "scale": {"domain": [-1.2, 43.3], "nice": false, "zero": false}, "axis": {"values": [0, 10, 20, 30, 40], "title": "Odds Ratio", "titleFontStyle": "italic"}},
                            "y": {"field": "y", "type": "quantitative", "scale": {"domain": [-0.8, 19.6], "nice": false, "zero": false}, "axis": {"values": [0, 5, 10, 15], "title": "-log10(p-value)", "titleFontStyle": "italic"}},
                            "color": {"field": "y", "type": "quantitative", "scale": {"domain": [0, 1.29, 1.3, 2.2, 3.5], "range": ["#a0a0a0", "#a0a0a0", "#6f9ff0", "#3c63c2", "#25307a"], "clamp": true, "interpolate": "rgb"}, "legend": null},
                            "size": {"field": "y", "type": "quantitative", "scale": {"domain": [0, 1.29, 1.3, 4], "range": [3, 5, 9, 13], "clamp": true}, "legend": null}
                          }
                        },
                        {
                          "transform": [{"filter": "datum.lab === 'Cell Cycle'"}],
                          "mark": {"type": "text", "align": "left", "dx": 3, "dy": -4, "fontSize": 7.5, "color": "#e3221c"},
                          "encoding": {"x": {"field": "x", "type": "quantitative"}, "y": {"field": "y", "type": "quantitative"}, "text": {"field": "lab"}}
                        },
                        {
                          "transform": [{"filter": "datum.lab === 'Cell Cycle, Mitotic' || datum.lab === 'Cell Cycle Checkpoints'"}],
                          "mark": {"type": "text", "align": "left", "dx": 3, "dy": 2, "fontSize": 7.5, "color": "#e3221c"},
                          "encoding": {"x": {"field": "x", "type": "quantitative"}, "y": {"field": "y", "type": "quantitative"}, "text": {"field": "lab"}}
                        },
                        {
                          "transform": [{"filter": "datum.lab === 'M-Phase'"}],
                          "mark": {"type": "text", "align": "center", "dx": 5, "dy": -5, "fontSize": 7.5, "color": "#e3221c"},
                          "encoding": {"x": {"field": "x", "type": "quantitative"}, "y": {"field": "y", "type": "quantitative"}, "text": {"field": "lab"}}
                        },
                        {
                          "transform": [{"filter": "indexof(datum.lab || '', 'Activation') === 0"}],
                          "mark": {"type": "text", "align": "left", "baseline": "top", "dx": 3, "dy": -4, "lineBreak": "\n", "lineHeight": 9, "fontSize": 7.5, "color": "#e3221c"},
                          "encoding": {"x": {"field": "x", "type": "quantitative"}, "y": {"field": "y", "type": "quantitative"}, "text": {"field": "lab"}}
                        }
                      ]
                    },
                    {
                      "width": 149,
                      "height": 154,
                      "title": {"text": "Kinase Enrichment Analysis (KEA)", "anchor": "start", "frame": "group", "fontSize": 9.5, "fontWeight": "normal", "offset": 4, "color": "#222"},
                      "data": {"name": "kea"},
                      "layer": [
                        {
                          "mark": {"type": "circle", "opacity": 1},
                          "encoding": {
                            "x": {"field": "x", "type": "quantitative", "scale": {"domain": [-3, 87.3], "nice": false, "zero": false}, "axis": {"values": [0, 20, 40, 60, 80], "title": "Odds Ratio", "titleFontStyle": "italic"}},
                            "y": {"field": "y", "type": "quantitative", "scale": {"domain": [-0.345, 8.5], "nice": false, "zero": false}, "axis": {"values": [0, 2, 4, 6, 8], "title": "-log10(p-value)", "titleFontStyle": "italic"}},
                            "color": {"field": "y", "type": "quantitative", "scale": {"domain": [0, 1.29, 1.3, 2.0, 2.3], "range": ["#a0a0a0", "#a0a0a0", "#7aa8f0", "#4a72d0", "#25307a"], "clamp": true, "interpolate": "rgb"}, "legend": null},
                            "size": {"field": "y", "type": "quantitative", "scale": {"domain": [0, 1.29, 1.3, 3], "range": [3, 5, 9, 13], "clamp": true}, "legend": null}
                          }
                        },
                        {
                          "transform": [{"filter": "datum.lab === 'CDK1' || datum.lab === 'CDK2' || datum.lab === 'CDC7' || datum.lab === 'PLK1'"}],
                          "mark": {"type": "text", "align": "left", "dx": 3, "fontSize": 7.5, "color": "#e3221c"},
                          "encoding": {"x": {"field": "x", "type": "quantitative"}, "y": {"field": "y", "type": "quantitative"}, "text": {"field": "lab"}}
                        },
                        {
                          "transform": [{"filter": "datum.lab === 'AURKB'"}],
                          "mark": {"type": "text", "align": "center", "dx": -4, "dy": -7, "fontSize": 7.5, "color": "#e3221c"},
                          "encoding": {"x": {"field": "x", "type": "quantitative"}, "y": {"field": "y", "type": "quantitative"}, "text": {"field": "lab"}}
                        }
                      ]
                    }
                  ]
                },
                {
                  "spacing": 0,
                  "bounds": "flush",
                  "resolve": {"scale": {"color": "independent", "fill": "independent", "stroke": "independent", "size": "independent"}},
                  "hconcat": [
                    {"width": 59, "height": 1, "data": {"values": []}, "mark": "point", "encoding": {}},
                    {
                      "width": 240,
                      "height": 207,
                      "title": {"text": "Biological Processes", "anchor": "start", "frame": "group", "fontSize": 10, "fontWeight": "normal", "offset": 3, "color": "#222"},
                      "data": {"name": "go"},
                      "encoding": {
                        "y": {"field": "go", "type": "nominal", "sort": null, "scale": {"paddingInner": 0.14, "paddingOuter": 0.1}, "axis": {"labels": false, "title": null, "tickSize": 3, "domainColor": "#333", "tickColor": "#333"}}
                      },
                      "layer": [
                        {
                          "mark": {"type": "bar", "stroke": "#f2e6e6", "strokeWidth": 0.5},
                          "encoding": {
                            "x": {"field": "count", "type": "quantitative", "scale": {"domain": [0, 40.5], "nice": false}, "axis": {"values": [0, 10, 20, 30, 40], "title": "Count", "grid": false, "domainColor": "#333", "tickColor": "#333", "titlePadding": 2}},
                            "fill": {"field": "padj", "type": "quantitative", "scale": {"domain": [0.034, 0], "range": ["#4a80c8", "#d45a5a"], "interpolate": "rgb"},
                              "legend": {"type": "gradient", "orient": "bottom-right", "title": null, "gradientLength": 90, "gradientThickness": 26, "labelFontSize": 11, "values": [0.01, 0.02, 0.03], "offset": 7, "direction": "vertical", "gradientStrokeWidth": 0}}
                          }
                        },
                        {
                          "mark": {"type": "text", "align": "right", "dx": -8, "dy": -3.5, "fontSize": 7, "fontWeight": "bold", "color": "#111"},
                          "encoding": {"x": {"datum": 0}, "text": {"field": "go"}}
                        },
                        {
                          "mark": {"type": "text", "align": "right", "dx": -8, "dy": 3.5, "fontSize": 7, "color": "#111"},
                          "encoding": {"x": {"datum": 0}, "text": {"field": "name"}}
                        }
                      ]
                    }
                  ]
                }
              ]
            }
          ]
        }
      ],
      "spacing": 89,
      "bounds": "flush",
      "resolve": {"scale": {"color": "independent", "fill": "independent", "stroke": "independent", "size": "independent"}}
    },
    {
      "spacing": 0,
      "bounds": "flush",
      "resolve": {"scale": {"color": "independent", "fill": "independent", "stroke": "independent", "size": "independent"}},
      "hconcat": [
        {"width": 18, "height": 1, "data": {"values": []}, "mark": "point", "encoding": {}},
        {
          "spacing": 437,
          "bounds": "flush",
          "resolve": {"scale": {"color": "independent", "fill": "independent", "stroke": "independent", "size": "independent"}},
          "hconcat": [
            {
              "spacing": 0,
              "bounds": "flush",
              "resolve": {"scale": {"color": "independent", "fill": "independent", "stroke": "independent", "size": "independent"}},
              "vconcat": [
                {"width": 1, "height": 7, "data": {"values": []}, "mark": "point", "encoding": {}},
                {
                  "spacing": 134,
                  "bounds": "flush",
                  "resolve": {"scale": {"color": "independent", "fill": "independent", "stroke": "independent", "size": "independent"}},
                  "hconcat": [
                    {
                      "title": {"text": "WP_CELL_CYCLE", "fontSize": 5.5, "fontWeight": "bold", "offset": 2, "anchor": "middle", "frame": "bounds", "dx": 7},
                      "spacing": 0,
                      "bounds": "flush",
                      "resolve": {"scale": {"color": "independent", "fill": "independent", "stroke": "independent", "size": "independent"}},
                      "vconcat": [
                        {"width": 107, "height": 50, "view": {"stroke": "#9a9a9a", "strokeWidth": 0.6}, "data": {"name": "es1"},
                          "mark": {"type": "line", "color": "#7cc242", "strokeWidth": 1},
                          "encoding": {
                            "x": {"field": "rank", "type": "quantitative", "scale": {"domain": [0, 21000], "nice": false}, "axis": null},
                            "y": {"field": "es", "type": "quantitative", "scale": {"domain": [-0.58, 0.015], "nice": false, "zero": false}, "axis": {"values": [0, -0.1, -0.2, -0.3, -0.4, -0.5], "format": ".1f", "labelOverlap": false, "labelFontSize": 4, "tickSize": 1.5, "labelPadding": 1, "domain": false, "grid": false, "title": "Enrichment score (ES)", "titleFontSize": 4.5, "titlePadding": 2}}
                          }},
                        {"width": 107, "height": 16, "view": {"stroke": "#9a9a9a", "strokeWidth": 0.6}, "data": {"name": "hits1"},
                          "mark": {"type": "rule", "color": "#111", "strokeWidth": 0.6},
                          "encoding": {"x": {"field": "rank", "type": "quantitative", "scale": {"domain": [0, 21000], "nice": false}, "axis": null}}},
                        {"width": 107, "height": 5, "data": {"name": "cbar"}, "mark": {"type": "rect"},
                          "encoding": {
                            "x": {"field": "r0", "type": "quantitative", "scale": {"domain": [0, 21000], "nice": false}, "axis": null},
                            "x2": {"field": "r1"},
                            "fill": {"field": "m", "type": "quantitative", "scale": {"domain": [-1, -0.5, 0, 0.5, 1], "range": ["#3535a5", "#9a9ad8", "#f1ecf4", "#ebb3cf", "#d52d2d"], "interpolate": "rgb"}, "legend": null}
                          }},
                        {"width": 107, "height": 35, "view": {"stroke": "#9a9a9a", "strokeWidth": 0.6},
                          "layer": [
                            {"data": {"name": "ranked"}, "mark": {"type": "area", "fill": "#c4c4c4", "strokeWidth": 0.6},
                              "encoding": {
                                "x": {"field": "rank", "type": "quantitative", "scale": {"domain": [0, 21000], "nice": false}, "axis": {"values": [0, 5000, 10000, 15000, 20000], "labelExpr": "format(datum.value, ',')", "labelOverlap": false, "labelFontSize": 4, "tickSize": 1.5, "labelPadding": 0.5, "domain": false, "grid": false, "title": "Rank in Ordered Dataset", "titleFontSize": 5.5, "titlePadding": 0.5}},
                                "y": {"field": "metric", "type": "quantitative", "scale": {"domain": [-4.3, 4.1], "nice": false, "zero": false}, "axis": {"values": [4, 3, 2, 1, 0, -1, -2, -3], "labelOverlap": false, "labelFontSize": 3.5, "tickSize": 1.5, "labelPadding": 1, "domain": false, "grid": false, "title": "Ranked list metric (Signal2Noise)", "titleFontSize": 3.5, "titlePadding": 2}},
                                "stroke": {"datum": "Ranking metric scores", "scale": {"domain": ["Enrichment profile", "Hits", "Ranking metric scores"], "range": ["#7cc242", "#111111", "#b8b8b8"]},
                                  "legend": {"orient": "bottom", "direction": "horizontal", "title": null, "labelFontSize": 3.8, "symbolType": "stroke", "symbolSize": 25, "symbolStrokeWidth": 1, "strokeColor": "#888", "padding": 1, "offset": 0.5, "columnPadding": 5, "labelOffset": 2}}
                              }},
                            {"data": {"values": [{"t": "'DMSO' (positively correlated)"}]}, "mark": {"type": "text", "align": "left", "fontSize": 4.5, "color": "#d42a2a"},
                              "encoding": {"x": {"datum": 300}, "y": {"datum": 3.1}, "text": {"field": "t"}}},
                            {"data": {"values": [{"t": "'FzM1' (negatively correlated)"}]}, "mark": {"type": "text", "align": "right", "fontSize": 4.5, "color": "#3c3cb4"},
                              "encoding": {"x": {"datum": 19000}, "y": {"datum": -2.9}, "text": {"field": "t"}}}
                          ]}
                      ]
                    },
                    {
                      "title": {"text": "WP_G1_TO_S_CELL_CYCLE_CONTROL", "fontSize": 5.5, "fontWeight": "bold", "offset": 2, "anchor": "middle", "frame": "bounds", "dx": 7},
                      "spacing": 0,
                      "bounds": "flush",
                      "resolve": {"scale": {"color": "independent", "fill": "independent", "stroke": "independent", "size": "independent"}},
                      "vconcat": [
                        {"width": 107, "height": 50, "view": {"stroke": "#9a9a9a", "strokeWidth": 0.6}, "data": {"name": "es2"},
                          "mark": {"type": "line", "color": "#7cc242", "strokeWidth": 1},
                          "encoding": {
                            "x": {"field": "rank", "type": "quantitative", "scale": {"domain": [0, 21000], "nice": false}, "axis": null},
                            "y": {"field": "es", "type": "quantitative", "scale": {"domain": [-0.617, 0.016], "nice": false, "zero": false}, "axis": {"values": [0, -0.1, -0.2, -0.3, -0.4, -0.5, -0.6], "format": ".1f", "labelOverlap": false, "labelFontSize": 4, "tickSize": 1.5, "labelPadding": 1, "domain": false, "grid": false, "title": "Enrichment score (ES)", "titleFontSize": 4.5, "titlePadding": 2}}
                          }},
                        {"width": 107, "height": 16, "view": {"stroke": "#9a9a9a", "strokeWidth": 0.6}, "data": {"name": "hits2"},
                          "mark": {"type": "rule", "color": "#111", "strokeWidth": 0.6},
                          "encoding": {"x": {"field": "rank", "type": "quantitative", "scale": {"domain": [0, 21000], "nice": false}, "axis": null}}},
                        {"width": 107, "height": 5, "data": {"name": "cbar"}, "mark": {"type": "rect"},
                          "encoding": {
                            "x": {"field": "r0", "type": "quantitative", "scale": {"domain": [0, 21000], "nice": false}, "axis": null},
                            "x2": {"field": "r1"},
                            "fill": {"field": "m", "type": "quantitative", "scale": {"domain": [-1, -0.5, 0, 0.5, 1], "range": ["#3535a5", "#9a9ad8", "#f1ecf4", "#ebb3cf", "#d52d2d"], "interpolate": "rgb"}, "legend": null}
                          }},
                        {"width": 107, "height": 35, "view": {"stroke": "#9a9a9a", "strokeWidth": 0.6},
                          "layer": [
                            {"data": {"name": "ranked"}, "mark": {"type": "area", "fill": "#c4c4c4", "strokeWidth": 0.6},
                              "encoding": {
                                "x": {"field": "rank", "type": "quantitative", "scale": {"domain": [0, 21000], "nice": false}, "axis": {"values": [0, 5000, 10000, 15000, 20000], "labelExpr": "format(datum.value, ',')", "labelOverlap": false, "labelFontSize": 4, "tickSize": 1.5, "labelPadding": 0.5, "domain": false, "grid": false, "title": "Rank in Ordered Dataset", "titleFontSize": 5.5, "titlePadding": 0.5}},
                                "y": {"field": "metric", "type": "quantitative", "scale": {"domain": [-4.3, 4.1], "nice": false, "zero": false}, "axis": {"values": [4, 3, 2, 1, 0, -1, -2, -3], "labelOverlap": false, "labelFontSize": 3.5, "tickSize": 1.5, "labelPadding": 1, "domain": false, "grid": false, "title": "Ranked list metric (Signal2Noise)", "titleFontSize": 3.5, "titlePadding": 2}},
                                "stroke": {"datum": "Ranking metric scores", "scale": {"domain": ["Enrichment profile", "Hits", "Ranking metric scores"], "range": ["#7cc242", "#111111", "#b8b8b8"]},
                                  "legend": {"orient": "bottom", "direction": "horizontal", "title": null, "labelFontSize": 3.8, "symbolType": "stroke", "symbolSize": 25, "symbolStrokeWidth": 1, "strokeColor": "#888", "padding": 1, "offset": 0.5, "columnPadding": 5, "labelOffset": 2}}
                              }},
                            {"data": {"values": [{"t": "'DMSO' (positively correlated)"}]}, "mark": {"type": "text", "align": "left", "fontSize": 4.5, "color": "#d42a2a"},
                              "encoding": {"x": {"datum": 300}, "y": {"datum": 3.1}, "text": {"field": "t"}}},
                            {"data": {"values": [{"t": "'FzM1' (negatively correlated)"}]}, "mark": {"type": "text", "align": "right", "fontSize": 4.5, "color": "#3c3cb4"},
                              "encoding": {"x": {"datum": 19000}, "y": {"datum": -2.9}, "text": {"field": "t"}}}
                          ]}
                      ]
                    },
                    {
                      "title": {"text": "HALLMARK_G2M_CHECKPOINT", "fontSize": 5.5, "fontWeight": "bold", "offset": 2, "anchor": "middle", "frame": "bounds", "dx": 7},
                      "spacing": 0,
                      "bounds": "flush",
                      "resolve": {"scale": {"color": "independent", "fill": "independent", "stroke": "independent", "size": "independent"}},
                      "vconcat": [
                        {"width": 107, "height": 50, "view": {"stroke": "#9a9a9a", "strokeWidth": 0.6}, "data": {"name": "es3"},
                          "mark": {"type": "line", "color": "#7cc242", "strokeWidth": 1},
                          "encoding": {
                            "x": {"field": "rank", "type": "quantitative", "scale": {"domain": [0, 21000], "nice": false}, "axis": null},
                            "y": {"field": "es", "type": "quantitative", "scale": {"domain": [-0.617, 0.016], "nice": false, "zero": false}, "axis": {"values": [0, -0.1, -0.2, -0.3, -0.4, -0.5, -0.6], "format": ".1f", "labelOverlap": false, "labelFontSize": 4, "tickSize": 1.5, "labelPadding": 1, "domain": false, "grid": false, "title": "Enrichment score (ES)", "titleFontSize": 4.5, "titlePadding": 2}}
                          }},
                        {"width": 107, "height": 16, "view": {"stroke": "#9a9a9a", "strokeWidth": 0.6}, "data": {"name": "hits3"},
                          "mark": {"type": "rule", "color": "#111", "strokeWidth": 0.6},
                          "encoding": {"x": {"field": "rank", "type": "quantitative", "scale": {"domain": [0, 21000], "nice": false}, "axis": null}}},
                        {"width": 107, "height": 5, "data": {"name": "cbar"}, "mark": {"type": "rect"},
                          "encoding": {
                            "x": {"field": "r0", "type": "quantitative", "scale": {"domain": [0, 21000], "nice": false}, "axis": null},
                            "x2": {"field": "r1"},
                            "fill": {"field": "m", "type": "quantitative", "scale": {"domain": [-1, -0.5, 0, 0.5, 1], "range": ["#3535a5", "#9a9ad8", "#f1ecf4", "#ebb3cf", "#d52d2d"], "interpolate": "rgb"}, "legend": null}
                          }},
                        {"width": 107, "height": 35, "view": {"stroke": "#9a9a9a", "strokeWidth": 0.6},
                          "layer": [
                            {"data": {"name": "ranked"}, "mark": {"type": "area", "fill": "#c4c4c4", "strokeWidth": 0.6},
                              "encoding": {
                                "x": {"field": "rank", "type": "quantitative", "scale": {"domain": [0, 21000], "nice": false}, "axis": {"values": [0, 5000, 10000, 15000, 20000], "labelExpr": "format(datum.value, ',')", "labelOverlap": false, "labelFontSize": 4, "tickSize": 1.5, "labelPadding": 0.5, "domain": false, "grid": false, "title": "Rank in Ordered Dataset", "titleFontSize": 5.5, "titlePadding": 0.5}},
                                "y": {"field": "metric", "type": "quantitative", "scale": {"domain": [-4.3, 4.1], "nice": false, "zero": false}, "axis": {"values": [4, 3, 2, 1, 0, -1, -2, -3], "labelOverlap": false, "labelFontSize": 3.5, "tickSize": 1.5, "labelPadding": 1, "domain": false, "grid": false, "title": "Ranked list metric (Signal2Noise)", "titleFontSize": 3.5, "titlePadding": 2}},
                                "stroke": {"datum": "Ranking metric scores", "scale": {"domain": ["Enrichment profile", "Hits", "Ranking metric scores"], "range": ["#7cc242", "#111111", "#b8b8b8"]},
                                  "legend": {"orient": "bottom", "direction": "horizontal", "title": null, "labelFontSize": 3.8, "symbolType": "stroke", "symbolSize": 25, "symbolStrokeWidth": 1, "strokeColor": "#888", "padding": 1, "offset": 0.5, "columnPadding": 5, "labelOffset": 2}}
                              }},
                            {"data": {"values": [{"t": "'DMSO' (positively correlated)"}]}, "mark": {"type": "text", "align": "left", "fontSize": 4.5, "color": "#d42a2a"},
                              "encoding": {"x": {"datum": 300}, "y": {"datum": 3.1}, "text": {"field": "t"}}},
                            {"data": {"values": [{"t": "'FzM1' (negatively correlated)"}]}, "mark": {"type": "text", "align": "right", "fontSize": 4.5, "color": "#3c3cb4"},
                              "encoding": {"x": {"datum": 19000}, "y": {"datum": -2.9}, "text": {"field": "t"}}}
                          ]}
                      ]
                    }
                  ]
                }
              ]
            },
            {
              "width": 217,
              "height": 121.5,
              "layer": [
                {
                  "data": {"name": "fold"},
                  "mark": {"type": "bar", "stroke": "#222", "strokeWidth": 0.7},
                  "encoding": {
                    "x": {"field": "gene", "type": "nominal", "scale": {"domain": ["cdk1", "cdk2", "ccna1", "ccna2", "ccne1", "ccne2", "ccnd2"], "paddingInner": 0.27, "paddingOuter": 0}, "axis": {"title": null, "labelAngle": 0, "labelFontSize": 8.5, "labelBaseline": "top", "tickBand": "extent", "domainColor": "#111", "tickColor": "#111", "labelColor": "#111", "tickSize": 2.5, "labelPadding": 0.5}},
                    "xOffset": {"field": "grp", "type": "nominal", "scale": {"domain": ["DMSO", "FzM1"], "paddingInner": 0.3}},
                    "y": {"field": "fc", "type": "quantitative", "scale": {"domain": [0, 2], "nice": false}, "axis": {"values": [0, 0.5, 1, 1.5, 2], "format": ".1f", "title": "Fold change", "titleFontSize": 10, "labelFontSize": 9, "grid": false, "domainColor": "#111", "tickColor": "#111", "labelColor": "#111", "tickSize": 4}},
                    "fill": {"field": "grp", "type": "nominal", "scale": {"domain": ["DMSO", "FzM1"], "range": ["#111111", "#b4b4b4"]},
                      "legend": {"orient": "none", "legendX": 6, "legendY": -1, "direction": "horizontal", "title": null, "symbolType": "square", "symbolSize": 45, "labelFontSize": 7, "columnPadding": 12, "symbolStrokeColor": "#222", "symbolStrokeWidth": 0.7}}
                  }
                },
                {
                  "data": {"name": "fold"},
                  "mark": {"type": "rule", "color": "#111", "strokeWidth": 1},
                  "encoding": {
                    "x": {"field": "gene", "type": "nominal"},
                    "xOffset": {"field": "grp", "type": "nominal"},
                    "y": {"field": "fc", "type": "quantitative"},
                    "y2": {"field": "hi"}
                  }
                },
                {
                  "data": {"name": "fold"},
                  "mark": {"type": "tick", "color": "#111", "thickness": 1.2, "size": 6},
                  "encoding": {
                    "x": {"field": "gene", "type": "nominal"},
                    "xOffset": {"field": "grp", "type": "nominal"},
                    "y": {"field": "hi", "type": "quantitative"}
                  }
                },
                {
                  "data": {"name": "brackets"},
                  "mark": {"type": "line", "color": "#111", "strokeWidth": 1},
                  "encoding": {
                    "x": {"field": "gene", "type": "nominal"},
                    "xOffset": {"field": "grp", "type": "nominal"},
                    "y": {"field": "v", "type": "quantitative"},
                    "detail": {"field": "gene"},
                    "order": {"field": "k"}
                  }
                },
                {
                  "data": {"name": "sig"},
                  "mark": {"type": "text", "fontSize": 9, "baseline": "alphabetic", "dy": -1, "color": "#111"},
                  "encoding": {
                    "x": {"field": "gene", "type": "nominal"},
                    "y": {"datum": 1.62},
                    "text": {"field": "sig"}
                  }
                }
              ]
            }
          ]
        }
      ]
    }
  ]
}
